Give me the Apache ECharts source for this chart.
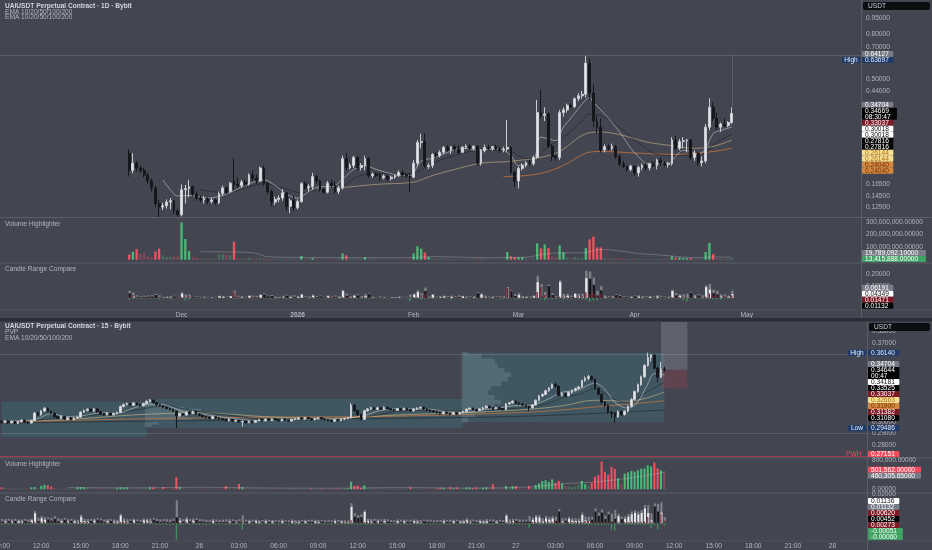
<!DOCTYPE html>
<html><head><meta charset="utf-8">
<script src="https://cdn.jsdelivr.net/npm/echarts@6/dist/echarts.min.js"></script>
<style>html,body{margin:0;padding:0;background:#434651;overflow:hidden}#c{width:932px;height:550px}</style>
</head><body><div id="c"></div>
<script>
// ---------------- DATA: daily chart (UAIUSDT 1D) ----------------
const dayFirst = '2025-11-17';
// [open, close, low, high]
const dayOHLC = [
[.228,.19,.178,.238],[.19,.205,.184,.228],[.205,.195,.188,.21],[.195,.19,.186,.2],[.19,.181,.177,.196],
[.181,.17,.165,.186],[.17,.158,.152,.175],[.158,.134,.129,.162],[.134,.129,.116,.139],[.129,.131,.125,.135],
[.131,.136,.127,.14],[.136,.138,.126,.142],[.138,.124,.12,.139],[.124,.119,.116,.126],[.119,.155,.117,.164],
[.155,.157,.134,.163],[.157,.16,.143,.172],[.16,.148,.145,.162],[.148,.142,.138,.152],[.142,.139,.136,.146],
[.139,.141,.134,.145],[.141,.137,.133,.143],[.137,.139,.134,.142],[.139,.135,.132,.141],[.135,.149,.133,.152],
[.149,.158,.145,.162],[.158,.152,.148,.16],[.152,.166,.15,.168],[.17,.164,.155,.216],[.164,.162,.158,.176],
[.162,.168,.158,.172],[.168,.164,.161,.172],[.164,.181,.162,.184],[.181,.175,.17,.19],[.175,.17,.165,.182],
[.17,.195,.168,.198],[.195,.166,.162,.2],[.166,.152,.148,.168],[.152,.136,.13,.155],[.136,.14,.132,.144],
[.14,.142,.136,.146],[.142,.15,.138,.156],[.15,.13,.124,.152],[.13,.138,.121,.141],[.138,.128,.124,.146],
[.128,.137,.126,.14],[.137,.165,.135,.168],[.165,.158,.155,.17],[.158,.16,.152,.164],[.16,.178,.155,.185],
[.178,.17,.165,.182],[.17,.156,.152,.172],[.156,.151,.148,.158],[.151,.166,.149,.17],[.166,.162,.158,.172],
[.162,.152,.148,.17],[.152,.158,.148,.162],[.158,.215,.155,.222],[.215,.196,.19,.228],[.196,.2,.192,.205],
[.2,.218,.195,.222],[.218,.196,.19,.22],[.196,.2,.19,.205],[.2,.215,.19,.222],[.215,.18,.176,.218],
[.18,.183,.176,.186],[.183,.18,.177,.186],[.18,.176,.17,.185],[.176,.179,.173,.182],[.179,.174,.17,.18],
[.174,.177,.171,.18],[.177,.18,.174,.182],[.18,.186,.177,.19],[.186,.181,.178,.19],[.181,.179,.176,.185],
[.179,.177,.152,.183],[.177,.205,.175,.212],[.205,.255,.198,.262],[.255,.258,.24,.28],[.258,.2,.195,.282],
[.198,.2,.193,.205],[.2,.225,.195,.228],[.225,.222,.218,.23],[.222,.23,.218,.235],[.23,.242,.226,.246],
[.242,.236,.232,.248],[.236,.244,.226,.246],[.244,.238,.234,.25],[.238,.23,.226,.248],[.23,.243,.228,.245],
[.243,.246,.238,.25],[.246,.24,.236,.25],[.24,.245,.235,.248],[.245,.205,.2,.248],[.205,.234,.2,.238],
[.234,.242,.23,.25],[.242,.24,.236,.248],[.24,.244,.234,.246],[.244,.238,.236,.25],[.238,.236,.23,.244],
[.236,.238,.23,.244],[.238,.242,.232,.324],[.242,.186,.182,.245],[.186,.17,.16,.19],[.17,.194,.157,.198],
[.194,.2,.19,.205],[.2,.206,.196,.21],[.206,.204,.2,.212],[.204,.218,.2,.222],[.218,.35,.215,.4],
[.35,.34,.33,.444],[.34,.345,.32,.37],[.345,.245,.24,.35],[.245,.22,.21,.25],[.22,.218,.21,.225],
[.218,.35,.212,.36],[.35,.36,.335,.37],[.36,.378,.35,.385],[.378,.372,.365,.385],[.372,.405,.368,.41],
[.405,.418,.395,.43],[.418,.425,.405,.44],[.425,.59,.41,.637],[.59,.43,.4,.62],[.43,.32,.3,.47],
[.32,.3,.28,.34],[.3,.236,.23,.33],[.236,.244,.23,.25],[.244,.24,.235,.25],[.24,.245,.234,.252],
[.245,.22,.215,.248],[.22,.203,.198,.225],[.203,.198,.195,.21],[.198,.192,.188,.2],[.192,.199,.188,.202],
[.199,.185,.18,.2],[.185,.196,.178,.2],[.196,.2,.19,.205],[.2,.195,.19,.206],[.195,.204,.19,.206],
[.204,.2,.196,.21],[.2,.212,.192,.215],[.212,.205,.2,.218],[.205,.202,.198,.21],[.202,.204,.196,.208],
[.204,.262,.2,.27],[.262,.24,.235,.275],[.24,.258,.235,.265],[.258,.26,.24,.27],[.26,.262,.23,.265],
[.262,.218,.212,.265],[.218,.228,.21,.235],[.228,.206,.2,.232],[.206,.21,.198,.22],[.21,.3,.205,.31],
[.3,.37,.29,.407],[.37,.33,.32,.39],[.33,.3,.29,.35],[.3,.31,.285,.315],[.31,.305,.3,.33],
[.305,.315,.3,.32],[.315,.34669,.31,.37]
];
// volume in millions
const dayVolumeM = [
42,64,85,48,53,27,21,64,88,35, 24,24,27,27,297,165,69,21,16,10,
8,7,9,8,40,45,42,37,143,12, 8,9,14,10,8,12,10,7,9,6,
5,6,8,7,6,5,29,8,7,13, 6,5,4,6,5,6,7,50,35,8,
7,6,5,21,9,5,4,5,4,4, 3,4,5,4,4,8,50,106,88,58,
21,12,8,7,9,6,7,5,6,5, 6,5,4,12,10,6,5,4,5,4,
5,61,27,21,21,21,8,6,10,130, 90,122,93,25,20,114,60,18,12,22,
15,14,93,162,183,98,98,14,10,8, 12,11,8,7,6,9,8,6,5,6,
5,7,6,5,5,27,16,19,13,12, 13,8,9,7,61,133,45,13,10,8,
9,13.415888
];
const dayVolMA = [['2025-12-06',64e6],['2025-12-13',62e6],['2025-12-20',56e6],['2025-12-24',24e6],['2026-01-02',18e6],
['2026-01-12',17e6],['2026-01-22',16e6],['2026-02-01',17e6],['2026-02-06',25e6],['2026-02-11',22e6],['2026-02-21',16e6],
['2026-02-26',18e6],['2026-03-03',20e6],['2026-03-08',45e6],['2026-03-13',55e6],['2026-03-18',55e6],['2026-03-23',82e6],
['2026-03-28',70e6],['2026-04-02',50e6],['2026-04-08',37e6],['2026-04-18',16e6],['2026-04-22',22e6],['2026-04-27',19789092.1]];
const ema10Day = [['2025-11-26',.172],['2025-11-28',.155],['2025-11-30',.145],['2025-12-03',.146],['2025-12-08',.142],['2025-12-13',.148],
['2025-12-18',.162],['2025-12-23',.172],['2025-12-26',.162],['2025-12-29',.148],['2026-01-01',.142],['2026-01-04',.152],['2026-01-07',.16],
['2026-01-10',.16],['2026-01-13',.173],['2026-01-16',.192],['2026-01-19',.2],['2026-01-22',.192],['2026-01-27',.182],['2026-01-31',.18],
['2026-02-03',.21],['2026-02-06',.216],['2026-02-09',.226],['2026-02-12',.236],['2026-02-15',.24],['2026-02-18',.235],['2026-02-21',.237],
['2026-02-24',.238],['2026-02-27',.222],['2026-03-01',.2],['2026-03-03',.203],['2026-03-05',.208],['2026-03-07',.27],['2026-03-09',.265],
['2026-03-11',.26],['2026-03-13',.3],['2026-03-15',.33],['2026-03-17',.365],['2026-03-19',.40],['2026-03-20',.41],['2026-03-21',.39],
['2026-03-23',.36],['2026-03-25',.33],['2026-03-27',.3],['2026-03-29',.27],['2026-03-31',.24],['2026-04-02',.22],['2026-04-04',.205],
['2026-04-06',.202],['2026-04-08',.205],['2026-04-10',.205],['2026-04-12',.22],['2026-04-14',.235],['2026-04-16',.232],['2026-04-18',.225],
['2026-04-20',.24],['2026-04-22',.28],['2026-04-24',.29],['2026-04-27',.30018]];
const ema20Day = [['2025-12-06',.155],['2025-12-13',.15],['2025-12-18',.158],['2025-12-23',.165],['2025-12-28',.158],['2026-01-02',.15],
['2026-01-07',.156],['2026-01-12',.158],['2026-01-17',.178],['2026-01-22',.185],['2026-01-27',.183],['2026-02-01',.185],['2026-02-06',.205],
['2026-02-11',.22],['2026-02-16',.232],['2026-02-21',.235],['2026-02-26',.235],['2026-03-03',.215],['2026-03-06',.22],['2026-03-09',.245],
['2026-03-13',.27],['2026-03-18',.32],['2026-03-20',.345],['2026-03-23',.34],['2026-03-28',.3],['2026-04-02',.255],['2026-04-07',.225],
['2026-04-12',.222],['2026-04-17',.225],['2026-04-20',.228],['2026-04-22',.25],['2026-04-27',.27816]];
const ema50Day = [['2026-01-06',.156],['2026-01-12',.158],['2026-01-22',.164],['2026-02-01',.168],['2026-02-06',.18],['2026-02-11',.19],
['2026-02-19',.205],['2026-02-28',.21],['2026-03-11',.228],['2026-03-19',.28],['2026-03-23',.285],['2026-03-29',.275],['2026-04-04',.257],
['2026-04-10',.248],['2026-04-17',.24],['2026-04-22',.245],['2026-04-27',.26144]];
const ema100Day = [['2026-02-25',.178],['2026-03-03',.18],['2026-03-08',.186],['2026-03-13',.2],['2026-03-19',.228],['2026-03-23',.232],
['2026-04-02',.228],['2026-04-12',.225],['2026-04-22',.232],['2026-04-27',.2404]];
const dayHigh = 0.63697;

// ---------------- DATA: 15-minute chart ----------------
const m15First = '04-25 09:00';
const m15OHLC = [
[.3010,.2998,.2988,.3018],[.2998,.3012,.2992,.3020],[.3012,.2996,.2986,.3018],[.2996,.3008,.2990,.3016],[.3008,.2992,.2984,.3014],
[.2992,.3006,.2986,.3012],[.3006,.3018,.3000,.3026],[.3018,.3002,.2994,.3024],[.3002,.2994,.2982,.3008],[.2994,.3014,.2990,.3022],
[.3014,.3082,.3010,.3092],[.3082,.3066,.3056,.3094],[.3066,.3100,.3060,.3110],[.3100,.3124,.3092,.3134],[.3124,.3098,.3090,.3130],
[.3098,.3080,.3070,.3106],[.3080,.3050,.3040,.3088],[.3050,.3036,.3026,.3060],[.3036,.3052,.3030,.3060],[.3052,.3028,.3020,.3058],
[.3028,.3040,.3020,.3048],[.3040,.3024,.3016,.3046],[.3024,.3038,.3018,.3044],[.3038,.3046,.3030,.3054],[.3046,.3090,.3040,.3098],
[.3090,.3104,.3082,.3112],[.3104,.3116,.3096,.3124],[.3116,.3100,.3092,.3122],[.3100,.3118,.3094,.3126],[.3118,.3094,.3086,.3122],
[.3094,.3076,.3068,.3100],[.3076,.3066,.3058,.3084],[.3066,.3082,.3062,.3090],[.3082,.3066,.3058,.3086],[.3066,.3078,.3060,.3086],
[.3078,.3088,.3070,.3094],[.3088,.3140,.3084,.3148],[.3140,.3156,.3132,.3166],[.3156,.3166,.3148,.3176],[.3166,.3150,.3142,.3170],
[.3150,.3170,.3146,.3178],[.3170,.3156,.3148,.3174],[.3156,.3146,.3138,.3162],[.3146,.3166,.3140,.3172],[.3166,.3184,.3160,.3192],
[.3184,.3196,.3176,.3206],[.3196,.3172,.3164,.3200],[.3172,.3156,.3148,.3178],[.3156,.3146,.3136,.3162],[.3146,.3132,.3124,.3152],
[.3132,.3122,.3112,.3140],[.3122,.3114,.3104,.3130],[.3114,.3098,.3088,.3120],[.3098,.3058,.29486,.3104],[.3058,.3076,.3048,.3084],
[.3076,.3064,.3054,.3082],[.3064,.3090,.3058,.3098],[.3090,.3078,.3068,.3096],[.3078,.3096,.3072,.3104],[.3096,.3074,.3066,.3100],
[.3074,.3062,.3052,.3080],[.3062,.3050,.3042,.3068],[.3050,.3042,.3032,.3056],[.3042,.3034,.3026,.3050],[.3034,.3050,.3028,.3056],
[.3050,.3040,.3030,.3056],[.3040,.3032,.3024,.3048],[.3032,.3024,.3016,.3040],[.3024,.3014,.3004,.3032],[.3014,.3026,.3008,.3034],
[.3026,.3012,.3004,.3030],[.3012,.3016,.3002,.3024],[.3016,.3004,.2994,.3022],[.3004,.3008,.2962,.3016],[.3008,.2998,.2990,.3014],
[.2998,.3010,.2992,.3016],[.3010,.3000,.2992,.3016],[.3000,.3016,.2996,.3022],[.3016,.3024,.3008,.3030],[.3024,.3014,.3006,.3028],
[.3014,.3028,.3008,.3034],[.3028,.3018,.3010,.3032],[.3018,.3030,.3012,.3036],[.3030,.3020,.3012,.3034],[.3020,.3014,.3006,.3026],
[.3014,.3028,.3008,.3034],[.3028,.3018,.3010,.3032],[.3018,.3012,.3004,.3024],[.3012,.3026,.3006,.3032],[.3026,.3032,.3018,.3040],
[.3032,.3040,.3024,.3046],[.3040,.3030,.3022,.3044],[.3030,.3042,.3024,.3048],[.3042,.3032,.3024,.3046],[.3032,.3022,.3014,.3038],
[.3022,.3034,.3016,.3040],[.3034,.3042,.3026,.3048],[.3042,.3030,.3022,.3046],[.3030,.3024,.3016,.3036],[.3024,.3016,.3008,.3030],
[.3016,.3010,.3002,.3022],[.3010,.3024,.3004,.3030],[.3024,.3016,.3008,.3030],[.3016,.3028,.3010,.3034],[.3028,.3034,.3020,.3040],
[.3034,.3040,.3026,.3046],[.3040,.3150,.3034,.3170],[.3150,.3104,.3094,.3162],[.3104,.3068,.3058,.3112],[.3068,.3026,.3016,.3076],
[.3026,.3102,.3020,.3110],[.3102,.3118,.3094,.3126],[.3118,.3130,.3110,.3138],[.3130,.3114,.3106,.3136],[.3114,.3128,.3108,.3136],
[.3128,.3116,.3108,.3134],[.3116,.3132,.3110,.3140],[.3132,.3120,.3112,.3138],[.3120,.3112,.3104,.3126],[.3112,.3106,.3098,.3118],
[.3106,.3120,.3100,.3126],[.3120,.3110,.3102,.3126],[.3110,.3124,.3104,.3130],[.3124,.3112,.3104,.3128],[.3112,.3102,.3094,.3118],
[.3102,.3116,.3096,.3122],[.3116,.3126,.3108,.3132],[.3126,.3132,.3118,.3140],[.3132,.3118,.3110,.3136],[.3118,.3108,.3100,.3124],
[.3108,.3098,.3090,.3114],[.3098,.3092,.3084,.3104],[.3092,.3084,.3076,.3098],[.3084,.3076,.3068,.3090],[.3076,.3090,.3070,.3096],
[.3090,.3080,.3072,.3094],[.3080,.3072,.3062,.3086],[.3072,.3086,.3066,.3092],[.3086,.3074,.3066,.3090],[.3074,.3084,.3068,.3090],
[.3084,.3096,.3078,.3102],[.3096,.3116,.3090,.3124],[.3116,.3124,.3108,.3132],[.3124,.3112,.3104,.3130],[.3112,.3104,.3096,.3118],
[.3104,.3118,.3098,.3124],[.3118,.3128,.3110,.3134],[.3128,.3142,.3120,.3148],[.3142,.3130,.3122,.3148],[.3130,.3120,.3110,.3136],
[.3120,.3130,.3114,.3136],[.3130,.3120,.3112,.3136],[.3120,.3112,.3104,.3126],[.3112,.3162,.3108,.3170],[.3162,.3172,.3154,.3180],
[.3172,.3186,.3164,.3194],[.3186,.3170,.3162,.3192],[.3170,.3162,.3152,.3178],[.3162,.3152,.3144,.3168],[.3152,.3140,.3132,.3158],
[.3140,.3128,.3098,.3146],[.3128,.3152,.3122,.3160],[.3152,.3194,.3146,.3202],[.3194,.3232,.3186,.3242],[.3232,.3246,.3222,.3256],
[.3246,.3278,.3238,.3288],[.3278,.3302,.3270,.3312],[.3302,.3334,.3294,.3342],[.3334,.3318,.3308,.3352],[.3318,.3238,.3230,.3326],
[.3238,.3252,.3228,.3262],[.3252,.3234,.3226,.3260],[.3234,.3264,.3228,.3272],[.3264,.3282,.3254,.3290],[.3282,.3298,.3272,.3306],
[.3298,.3312,.3288,.3320],[.3312,.3368,.3304,.3376],[.3368,.3388,.3358,.3404],[.3388,.3402,.3374,.3418],[.3402,.3378,.3368,.3412],
[.3378,.3298,.3288,.3388],[.3298,.3248,.3236,.3308],[.3248,.3176,.3164,.3258],[.3176,.3148,.3136,.3188],[.3148,.3088,.3078,.3158],
[.3088,.3078,.3036,.3100],[.3078,.3048,.2998,.3088],[.3048,.3096,.3040,.3104],[.3096,.3068,.3058,.3102],[.3068,.3098,.3060,.3106],
[.3098,.3142,.3088,.3150],[.3142,.3202,.3132,.3212],[.3202,.3272,.3192,.3280],[.3272,.3332,.3262,.3342],[.3332,.3402,.3322,.3412],
[.3402,.3502,.3390,.3514],[.3502,.3572,.3492,.3614],[.3572,.3592,.3536,.3604],[.3592,.3478,.3466,.3600],[.3478,.3398,.3356,.3488],
[.3398,.3470,.3392,.3534],[.34704,.34644,.3448,.3490]
];
// volume in thousands
const m15VolumeK = [
55,40,30,20,25,30,20,15,25,55, 60,30,90,120,110,70,40,20,15,20,
25,15,20,55,60,55,40,20,15,25, 20,15,20,15,25,30,55,50,50,25,
20,15,20,25,30,55,50,25,20,60, 25,20,30,327,60,30,25,20,15,20,
15,20,15,20,15,10,20,25,90,30, 20,25,145,60,25,20,15,12,15,10,
12,15,10,20,12,10,15,12,18,25, 15,12,10,15,20,12,10,15,12,10,
15,12,18,10,15,25,208,92,100,40, 110,30,25,20,15,20,25,15,12,20,
15,12,20,15,55,20,15,12,18,10, 15,12,20,50,40,20,55,30,50,20,
25,55,45,30,50,25,45,55,30,135, 30,20,25,90,40,85,90,30,20,30,
90,40,120,160,225,250,200,272,180,230, 160,100,80,60,70,120,230,140,100,175,
345,390,755,481,400,618,560,300,150,430, 460,500,480,520,560,570,650,620,736,572,
520,501.562
];
const m15VolMA = [['04-25 14:00',45e3],['04-25 19:00',40e3],['04-26 00:00',55e3],['04-26 05:00',35e3],['04-26 10:00',30e3],
['04-26 15:00',45e3],['04-26 20:00',35e3],['04-27 01:00',60e3],['04-27 03:30',150e3],['04-27 06:00',200e3],['04-27 08:30',300e3],
['04-27 11:15',460305.65]];
const ema10M15 = [['04-25 09:00',.3008],['04-25 11:30',.3025],['04-25 12:45',.3075],['04-25 14:00',.305],['04-25 15:15',.306],
['04-25 16:30',.3085],['04-25 17:45',.308],['04-25 19:00',.3125],['04-25 20:15',.316],['04-25 21:30',.315],['04-25 22:45',.3095],
['04-26 00:00',.3075],['04-26 01:15',.3055],['04-26 02:30',.3035],['04-26 03:45',.302],['04-26 05:00',.3015],['04-26 07:30',.3025],
['04-26 10:00',.3028],['04-26 11:30',.304],['04-26 12:30',.306],['04-26 13:45',.3105],['04-26 15:00',.3118],['04-26 17:30',.3115],
['04-26 18:45',.3095],['04-26 20:00',.3088],['04-26 21:15',.3105],['04-26 22:30',.3124],['04-26 23:45',.3145],['04-27 01:00',.315],
['04-27 02:15',.3195],['04-27 03:30',.3265],['04-27 04:45',.3285],['04-27 05:30',.333],['04-27 06:00',.3345],['04-27 06:45',.329],
['04-27 07:30',.3175],['04-27 08:30',.3125],['04-27 09:15',.318],['04-27 10:00',.334],['04-27 10:30',.343],['04-27 11:15',.34181]];
const ema20M15 = [['04-25 09:00',.3005],['04-25 11:30',.3015],['04-25 14:00',.3045],['04-25 16:30',.307],['04-25 19:00',.3105],
['04-25 21:30',.3145],['04-25 22:45',.312],['04-26 00:00',.3095],['04-26 02:30',.306],['04-26 05:00',.3025],['04-26 07:30',.3022],
['04-26 10:00',.3025],['04-26 12:30',.3045],['04-26 15:00',.3095],['04-26 17:30',.3108],['04-26 20:00',.3098],['04-26 22:30',.311],
['04-27 01:00',.3135],['04-27 02:15',.316],['04-27 03:30',.3215],['04-27 04:45',.3245],['04-27 06:00',.3295],['04-27 07:15',.3215],
['04-27 08:30',.3175],['04-27 09:45',.3255],['04-27 11:15',.33525]];
const ema50M15 = [['04-25 09:00',.3005],['04-25 14:00',.3025],['04-25 19:00',.3065],['04-26 00:00',.3085],['04-26 05:00',.305],
['04-26 10:00',.3035],['04-26 15:00',.3065],['04-26 20:00',.3085],['04-27 01:00',.3115],['04-27 03:30',.3145],['04-27 06:00',.3195],
['04-27 08:30',.3185],['04-27 11:15',.32663]];
const ema100M15 = [['04-25 09:00',.3],['04-25 19:00',.303],['04-26 05:00',.3045],['04-26 15:00',.3055],['04-27 01:00',.309],
['04-27 06:00',.3135],['04-27 11:15',.319]];
const ema200M15 = [['04-25 09:00',.2995],['04-26 00:00',.3015],['04-26 15:00',.3035],['04-27 01:00',.3055],['04-27 11:15',.3108]];
const m15High = 0.36140, m15Low = 0.29486, m15PWH = 0.27151;
// periodic volume profile sessions: [from, to, low, high]
const pvpSessions = [['04-25 09:00','04-25 20:00',.2868,.3182],['04-25 20:00','04-26 20:00',.2949,.3206],['04-26 20:00','04-27 11:15',.3003,.3614]];
// profile rows: [low, high, length in bars]
const pvpRows2 = [[.2960,.2980,2],[.2980,.3000,4],[.3000,.3020,9],[.3020,.3040,14],[.3040,.3060,12],[.3060,.3080,10],
[.3080,.3100,14],[.3100,.3120,17],[.3120,.3140,12],[.3140,.3160,6],[.3160,.3180,3],[.3180,.3200,1]];
const pvpRows3 = [[.300,.304,2],[.304,.308,4],[.308,.312,7],[.312,.316,10],[.316,.320,12],[.320,.324,10],[.324,.328,8],
[.328,.332,9],[.332,.336,12],[.336,.340,14],[.340,.344,15],[.344,.348,13],[.348,.352,11],[.352,.356,10],[.356,.360,6],[.360,.362,2]];

// price-scale tick labels and tags
const tickDay = [0.95,0.80,0.70,0.60,0.50,0.44,0.38,0.165,0.145,0.129];
const tickDayVol = [300e6,200e6,100e6];
const tickDayRange = [0.2,0.1];
const tickM15 = [0.38,0.37,0.30,0.29,0.28];
const tickM15Vol = [800e3,0];
const tickM15Range = [0.02];
const tagsDay = [[0.64127,'0.64127','grey'],[0.63697,'0.63697','blue','High'],[0.34704,'0.34704','grey'],[0.34669,'0.34669\n08:30:47','black'],
[0.33037,'0.33037','dred'],[0.30018,'0.30018','white'],[0.30018,'0.30018','white'],[0.27816,'0.27816','black'],[0.27816,'0.27816','black'],
[0.26144,'0.26144','yellow'],[0.26144,'0.26144','yellow'],[0.24040,'0.24040','orange'],[0.24040,'0.24040','orange']];
const tagsDayVol = [[19789092.1,'19,789,092.10000','grey'],[13415888,'13,415,888.00000','green']];
const tagsDayRange = [[0.06191,'0.06191','grey'],[0.04349,'0.04349','white'],[0.01471,'0.01471','dred'],[0.01132,'0.01132','black']];
const tagsM15 = [[0.36140,'0.36140','blue','High'],[0.34704,'0.34704','grey'],[0.34644,'0.34644\n00:47','black'],[0.34181,'0.34181','white'],
[0.33525,'0.33525','black'],[0.33037,'0.33037','dred'],[0.32663,'0.32663','yellow'],[0.31900,'0.31900','orange'],[0.31382,'0.31382','dred'],
[0.31080,'0.31080','black'],[0.29486,'0.29486','blue','Low'],[0.27151,'0.27151','red','PWH']];
const tagsM15Vol = [[501562,'501,562.00000','red'],[460305.65,'460,305.65000','grey']];
const tagsM15Range = [[0.01136,'0.01136','white'],[0.01132,'0.01132','grey'],[0.0062,'0.00620','dred'],[0.00452,'0.00452','black'],
[0.00273,'0.00273','dred'],[-0.00051,'-0.00051','green'],[-0.0006,'-0.00060','green']];

// ---------------- BUILD ----------------
const BG='#434651', TXT='#b2b5be', FONT='"Liberation Sans", Arial, sans-serif', FS=6.6;
const dayCats=[]; (function(){const d=new Date(Date.UTC(2025,9,14));for(let i=0;i<230;i++){dayCats.push(d.toISOString().slice(0,10));d.setUTCDate(d.getUTCDate()+1);}})();
const m15Cats=[]; (function(){const d=new Date(Date.UTC(2026,3,25,9,0));const p=n=>String(n).padStart(2,'0');
 for(let i=0;i<263;i++){m15Cats.push(p(d.getUTCMonth()+1)+'-'+p(d.getUTCDate())+' '+p(d.getUTCHours())+':'+p(d.getUTCMinutes()));d.setTime(d.getTime()+900000);}})();
function pad(cats, first, arr){const k=cats.indexOf(first);const out=new Array(cats.length).fill('-');arr.forEach((v,i)=>{out[k+i]=v;});return out;}
const dayC = pad(dayCats, dayFirst, dayOHLC), m15C = pad(m15Cats, m15First, m15OHLC);
const dayV = pad(dayCats, dayFirst, dayVolumeM.map(v=>v*1e6)), m15V = pad(m15Cats, m15First, m15VolumeK.map(v=>v*1e3));
const dayLast = dayCats[dayCats.indexOf(dayFirst)+dayOHLC.length-1];
const GREEN='#4cb877', RED='#f0505f', GREEN_D='rgba(76,184,119,0.38)', RED_D='rgba(240,80,95,0.38)';
// highlight bars whose volume is above the trailing 20-bar average
function volItems(C, V){return V.map((v,i)=>{if(v==='-')return '-';const up=C[i][1]>=C[i][0];
 let s=0,n=0;for(let k=Math.max(0,i-20);k<i;k++){if(V[k]!=='-'){s+=V[k];n++;}}const hi=n===0||v>s/n;
 return {value:v,itemStyle:{color: up?(hi?GREEN:GREEN_D):(hi?RED:RED_D)}};});}
function parts(C){const r={rng:[],bu:[],bd:[],uw:[],lw:[]};C.forEach(d=>{if(d==='-'){for(const k in r)r[k].push('-');return;}
 const [o,c,l,h]=d;r.rng.push(h-l);if(c>=o){r.bu.push(c-o);r.bd.push('-');}else{r.bd.push(o-c);r.bu.push('-');}
 r.uw.push(h-Math.max(o,c));r.lw.push(-(Math.min(o,c)-l));});return r;}
const dP=parts(dayC), mP=parts(m15C);
const RT=71, RB=65;
const grids=[{top:0,height:217},{top:219,height:43},{top:264,height:45},{top:322,height:135},{top:459,height:33},{top:494,height:46}]
 .map((g,i)=>Object.assign({left:0,right:i<3?RT:RB,containLabel:false,outerBoundsMode:'none'},g));
const monthNames=['Jan','Feb','Mar','Apr','May','Jun','Jul','Aug','Sep','Oct','Nov','Dec'];
function xAx(gi, cats, labelKind){const a={type:'category',gridIndex:gi,data:cats,boundaryGap:true,axisLine:{show:false},axisTick:{show:false},splitLine:{show:false},axisLabel:{show:false}};
 if(labelKind==='day'){a.axisLabel={show:true,margin:3,color:TXT,fontSize:FS,fontFamily:FONT,hideOverlap:false,interval:(i,v)=>v.slice(8)==='01'&&v>=dayFirst,
   formatter:v=>{const m=+v.slice(5,7);return m===1?'{y|'+v.slice(0,4)+'}':monthNames[m-1];},rich:{y:{fontWeight:'bold',fontSize:FS,fontFamily:FONT,color:TXT}}};}
 if(labelKind==='m15'){a.axisLabel={show:true,margin:3,color:TXT,fontSize:FS,fontFamily:FONT,hideOverlap:false,interval:(i,v)=>{const h=+v.slice(6,8),m=+v.slice(9,11);return m===0&&h%3===0;},
   formatter:v=>{const h=+v.slice(6,8);return h===0?String(+v.slice(3,5)):v.slice(6);}};}
 return a;}
function yAx(gi, type, min, max){return {type:type,gridIndex:gi,min:min,max:max,show:false,splitLine:{show:false},logBase:10};}
const candleStyle={color:'#e4e5ea',color0:'#17191f',borderColor:'#c9cbd2',borderColor0:'#15171c',borderWidth:1};
function line(name,xi,data,color,w){return {name,type:'line',xAxisIndex:xi,yAxisIndex:xi,data,symbol:'none',smooth:0.35,silent:true,lineStyle:{color,width:w||1},z:4};}
function bars(xi,data,color,extra){return Object.assign({type:'bar',xAxisIndex:xi,yAxisIndex:xi,data,barWidth:'62%',barGap:'-100%',silent:true,itemStyle:{color}},extra||{});}
const hl='rgba(255,255,255,0.13)';
const series=[
 {name:'UAIUSDT 1D',type:'candlestick',xAxisIndex:0,yAxisIndex:0,data:dayC,barWidth:'62%',itemStyle:candleStyle,z:5,silent:true,
  markLine:{silent:true,symbol:'none',label:{show:false},lineStyle:{color:hl,width:1,type:'solid'},
   data:[{yAxis:dayHigh},[{coord:[dayLast,dayHigh]},{coord:[dayLast,dayOHLC[dayOHLC.length-1][3]]}]]}},
 line('EMA100',0,ema100Day,'rgba(210,118,58,0.75)'), line('EMA50',0,ema50Day,'rgba(232,205,140,0.5)'),
 line('EMA20',0,ema20Day,'rgba(30,30,36,0.55)'), line('EMA10',0,ema10Day,'rgba(255,255,255,0.42)'),
 bars(1,volItems(dayC,dayV),GREEN), line('VolMA',1,dayVolMA,'rgba(200,202,210,0.3)'),
 bars(2,dP.rng,'rgba(150,152,160,0.75)'), bars(2,dP.bu,'#e6e7eb'), bars(2,dP.bd,'#15171c'), bars(2,dP.uw,'#7d1c28',{barWidth:'35%'}), bars(2,dP.lw,'#3f9a5c',{barWidth:'35%'}),
 // 15m
 {name:'PVP boxes',type:'line',xAxisIndex:3,yAxisIndex:3,data:[],z:1,silent:true,
  markArea:{silent:true,itemStyle:{color:'rgba(58,120,132,0.33)'},data:pvpSessions.map(s=>[{xAxis:s[0],yAxis:s[2]},{xAxis:s[1],yAxis:s[3]}]).concat([
   [{xAxis:'04-27 11:00',yAxis:0.34644,itemStyle:{color:'rgba(150,152,162,0.35)'}},{xAxis:'04-27 13:00',yAxis:0.3885}],
   [{xAxis:'04-27 11:00',yAxis:0.3298,itemStyle:{color:'rgba(242,54,69,0.16)'}},{xAxis:'04-27 13:00',yAxis:0.34644}]])}},
 {name:'PVP profile',type:'custom',xAxisIndex:3,yAxisIndex:3,z:2,silent:true,
  data:[].concat(pvpRows2.map(r=>[m15Cats.indexOf(pvpSessions[1][0]),r[0],r[1],r[2]]),pvpRows3.map(r=>[m15Cats.indexOf(pvpSessions[2][0]),r[0],r[1],r[2]])),
  encode:{x:0,y:[1,2]},
  renderItem:(p,api)=>{const a=api.coord([api.value(0),api.value(1)]),b=api.coord([api.value(0),api.value(2)]);const bw=api.size([1,0])[0];
   return {type:'rect',shape:{x:a[0]-bw/2,y:b[1],width:api.value(3)*bw,height:a[1]-b[1]},style:{fill:'rgba(160,190,200,0.2)'}};}},
 {name:'UAIUSDT 15',type:'candlestick',xAxisIndex:3,yAxisIndex:3,data:m15C,barWidth:'62%',itemStyle:candleStyle,z:5,silent:true,
  markLine:{silent:true,symbol:'none',label:{show:false},data:[{yAxis:m15High,lineStyle:{color:hl,width:1,type:'solid'}},{yAxis:m15Low,lineStyle:{color:hl,width:1,type:'solid'}},
   {yAxis:m15PWH,lineStyle:{color:'rgba(242,54,69,0.55)',width:1,type:'solid'}}]}},
 line('EMA200',3,ema200M15,'rgba(25,25,30,0.5)'), line('EMA100',3,ema100M15,'rgba(210,118,58,0.7)'), line('EMA50',3,ema50M15,'rgba(232,205,140,0.5)'),
 line('EMA20',3,ema20M15,'rgba(30,30,36,0.5)'), line('EMA10',3,ema10M15,'rgba(255,255,255,0.4)'),
 bars(4,volItems(m15C,m15V),GREEN), line('VolMA',4,m15VolMA,'rgba(200,202,210,0.3)'),
 bars(5,mP.rng,'rgba(150,152,160,0.75)'), bars(5,mP.bu,'#e6e7eb'), bars(5,mP.bd,'#15171c'), bars(5,mP.uw,'#7d1c28',{barWidth:'35%'}), bars(5,mP.lw,'#3f9a5c',{barWidth:'35%'})
];
const chart=echarts.init(document.getElementById('c'),null,{renderer:'canvas',width:932,height:550});
chart.setOption({animation:false,backgroundColor:BG,grid:grids,
 xAxis:[xAx(0,dayCats),xAx(1,dayCats),xAx(2,dayCats,'day'),xAx(3,m15Cats),xAx(4,m15Cats),xAx(5,m15Cats,'m15')],
 yAxis:[yAx(0,'log',0.1162,1.1488),yAx(1,'value',-18e6,324e6),yAx(2,'value',-0.092,0.283),
        yAx(3,'value',0.2694,0.3885),yAx(4,'value',-74e3,827e3),yAx(5,'value',-0.0113,0.0198)],
 series});

// ---------------- price scales, tags, legends ----------------
const G=[];
const tagColors={grey:['#787b86','#ffffff'],blue:['#1d3a6b','#e6ecf7'],black:['#050505','#ffffff'],dred:['#7e1a26','#ffffff'],
 white:['#ffffff','#111111'],yellow:['#f7df92','#a8701a'],orange:['#d4893f','#6e3009'],green:['#3fa463','#ffffff'],red:['#f04b5a','#ffffff']};
const fmtVol=v=>v.toLocaleString('en-US',{minimumFractionDigits:5,maximumFractionDigits:5});
const paneBounds=[[0,217],[219,262],[264,309],[322,457],[459,492],[494,540]];
function txt(x,y,s,fill,opt){G.push(Object.assign({type:'text',silent:true,z:100,style:{x,y,text:s,fill,fontSize:FS,fontFamily:FONT,verticalAlign:'middle',align:'left'}},opt||{}));}
function ticks(yi,vals,fmt){const ax=932-(yi<3?RT:RB);vals.forEach(v=>{const y=chart.convertToPixel({yAxisIndex:yi},v);txt(ax+5,y,fmt(v),TXT);});}
function tags(yi,list){const ax=932-(yi<3?RT:RB);const [top,bot]=paneBounds[yi];
 const items=list.map(t=>{const lines=t[1].split('\n').length;return {v:t[0],s:t[1],c:t[2],side:t[3],h:6*lines,d:chart.convertToPixel({yAxisIndex:yi},t[0])};});
 items.sort((a,b)=>a.d-b.d);
 let cl=items.map(t=>({it:[t]}));
 const place=c=>{let off=0;c.offs=c.it.map(t=>{const o=off+t.h/2;off+=t.h;return o;});c.H=off;
  const md=c.it.reduce((s,t)=>s+t.d,0)/c.it.length, mo=c.offs.reduce((s,o)=>s+o,0)/c.offs.length;
  let T=((md-mo)+(c.it[0].d-c.it[0].h/2))/2;T=Math.max(top,Math.min(bot-c.H,T));c.T=T;};
 cl.forEach(place);
 let m=true;while(m){m=false;for(let i=0;i<cl.length-1;i++){if(cl[i].T+cl[i].H>cl[i+1].T+0.01){cl[i].it=cl[i].it.concat(cl[i+1].it);cl.splice(i+1,1);place(cl[i]);m=true;break;}}}
 cl.forEach(c=>c.it.forEach((t,k)=>{const cy=c.T+c.offs[k];const [bg,fg]=tagColors[t.c];const lines=t.s.split('\n');
  const w=Math.max(...lines.map(s=>s.length))*3.62+6;
  G.push({type:'rect',silent:true,z:110,shape:{x:ax+1,y:cy-t.h/2,width:w,height:t.h,r:1},style:{fill:bg}});
  lines.forEach((s,j)=>txt(ax+4,cy-t.h/2+3+6*j,s,fg,{z:111}));
  if(t.side){if(t.side==='PWH'){txt(ax-21,cy,'PWH','#f04b5a',{z:111});}
   else{G.push({type:'rect',silent:true,z:110,shape:{x:ax-19,y:cy-3,width:18,height:6,r:1},style:{fill:bg}});
    G.push({type:'text',silent:true,z:111,style:{x:ax-10,y:cy,text:t.side,fill:fg,fontSize:FS,fontFamily:FONT,verticalAlign:'middle',align:'center'}});}}
 }));}
ticks(0,tickDay,v=>v.toFixed(5)); ticks(1,tickDayVol,fmtVol); ticks(2,tickDayRange,v=>v.toFixed(5));
ticks(3,tickM15,v=>v.toFixed(5)); ticks(4,tickM15Vol,fmtVol); ticks(5,tickM15Range,v=>v.toFixed(5));
tags(0,tagsDay); tags(1,tagsDayVol); tags(2,tagsDayRange); tags(3,tagsM15); tags(4,tagsM15Vol); tags(5,tagsM15Range);
// chrome: separators and axis borders
const SEP='#5a5d68';
function hline(y,c,w){G.push({type:'rect',silent:true,z:50,shape:{x:0,y:y,width:932,height:w||1},style:{fill:c}});}
hline(217,SEP);hline(262.5,SEP);hline(309.5,'#4d505b');hline(318,'#2b2e37',3.5);
hline(457.5,SEP);hline(492.5,SEP);hline(540.5,'#4d505b');
G.push({type:'rect',silent:true,z:50,shape:{x:932-RT,y:0,width:1,height:318},style:{fill:SEP}});
G.push({type:'rect',silent:true,z:50,shape:{x:932-RB,y:321.5,width:1,height:228.5},style:{fill:SEP}});
// currency boxes
[[863,2,'USDT'],[869,323,'USDT']].forEach(b=>{G.push({type:'rect',silent:true,z:120,shape:{x:b[0],y:b[1],width:930-b[0],height:8,r:2},style:{fill:'#0c0d10'}});
 txt(b[0]+5,b[1]+4,b[2],'#d1d4dc',{z:121});});
// legends
function leg(y,s,bold,c){G.push({type:'text',silent:true,z:100,style:{x:5,y,text:s,fill:c||TXT,fontSize:FS,fontFamily:FONT,fontWeight:bold?'bold':'normal',verticalAlign:'middle'}});}
leg(5.8,'UAIUSDT Perpetual Contract · 1D · Bybit',true,'#d1d4dc');leg(11.8,'EMA 10/20/50/100/200');leg(17.6,'EMA 10/20/50/100/200');
leg(224,'Volume Highlighter');leg(269.3,'Candle Range Compare');
leg(326,'UAIUSDT Perpetual Contract · 15 · Bybit',true,'#d1d4dc');leg(331.8,'PVP');leg(337.8,'EMA 10/20/50/100/200');
leg(464,'Volume Highlighter');leg(498.7,'Candle Range Compare');
chart.setOption({graphic:G});
</script></body></html>
